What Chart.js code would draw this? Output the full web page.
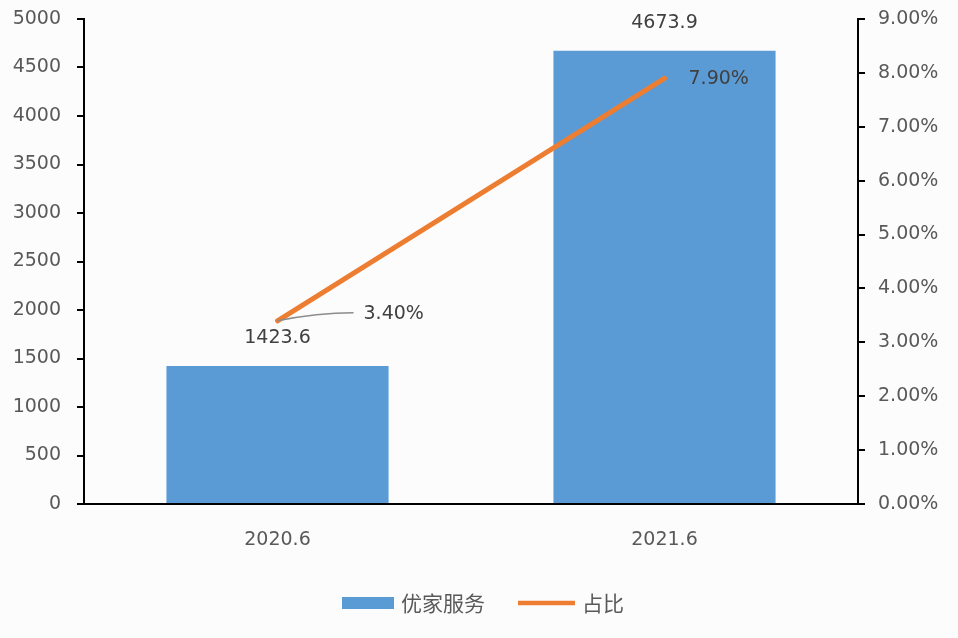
<!DOCTYPE html>
<html><head><meta charset="utf-8">
<script src="https://cdn.jsdelivr.net/npm/chart.js@4/dist/chart.umd.min.js"></script>
<style>html,body{margin:0;padding:0;background:#fdfcfd;}canvas{display:block;}</style>
</head><body>
<canvas id="c" width="958" height="638"></canvas>
<script>
const categories = ['2020.6', '2021.6'];
const serviceValues = [1423.6, 4673.9];
const shareValues = [3.40, 7.90];
const seriesNames = ['优家服务', '占比'];

const BLUE = '#5B9BD5', ORANGE = '#ED7D31', GREY = '#595959', DARK = '#404040';
const FONT = '"DejaVu Sans", sans-serif';
const CJK = '"Noto Sans CJK SC", sans-serif';

const labelPlugin = {
  id: 'labels',
  afterDatasetsDraw(chart) {
    const ctx = chart.ctx;
    const x = chart.scales.x, y = chart.scales.y, y2 = chart.scales.y2;
    ctx.save();
    ctx.font = '19px ' + FONT;
    ctx.fillStyle = DARK;
    ctx.textAlign = 'center';
    ctx.textBaseline = 'middle';
    serviceValues.forEach((v, i) => {
      ctx.fillText(v.toFixed(1), x.getPixelForValue(i), y.getPixelForValue(v) - 28);
    });
    ctx.textAlign = 'left';
    const p0x = x.getPixelForValue(0), p0y = y2.getPixelForValue(shareValues[0]);
    ctx.strokeStyle = '#8c8c8c';
    ctx.lineWidth = 1.5;
    ctx.beginPath();
    ctx.moveTo(p0x, p0y);
    ctx.quadraticCurveTo(p0x + 40, p0y - 8, p0x + 76, p0y - 8);
    ctx.stroke();
    ctx.fillText(shareValues[0].toFixed(2) + '%', p0x + 86, p0y - 7);
    const p1x = x.getPixelForValue(1), p1y = y2.getPixelForValue(shareValues[1]);
    ctx.fillText(shareValues[1].toFixed(2) + '%', p1x + 24, p1y + 1);
    ctx.restore();
  },
  afterDraw(chart) {
    const ctx = chart.ctx;
    ctx.save();
    ctx.fillStyle = BLUE;
    ctx.fillRect(342, 597, 52, 12);
    ctx.strokeStyle = ORANGE;
    ctx.lineWidth = 4.5;
    ctx.beginPath(); ctx.moveTo(518, 603); ctx.lineTo(575, 603); ctx.stroke();
    ctx.font = '21px ' + CJK;
    ctx.fillStyle = GREY;
    ctx.textAlign = 'left';
    ctx.textBaseline = 'middle';
    ctx.fillText(seriesNames[0], 401, 603);
    ctx.fillText(seriesNames[1], 582, 603);
    ctx.restore();
  }
};

function fixV(w) {
  return function (s) { s.width = w; s.paddingTop = 0; s.paddingBottom = 0; };
}

new Chart(document.getElementById('c'), {
  data: {
    labels: categories,
    datasets: [
      { type: 'line', label: seriesNames[1], data: shareValues, yAxisID: 'y2',
        borderColor: ORANGE, borderWidth: 5, pointRadius: 0, order: 0, borderCapStyle: 'round' },
      { type: 'bar', label: seriesNames[0], data: serviceValues, yAxisID: 'y',
        backgroundColor: BLUE, barPercentage: 0.574, categoryPercentage: 1, order: 1 }
    ]
  },
  options: {
    responsive: false, animation: false, devicePixelRatio: 1,
    layout: { padding: { top: 19, left: 0, right: 0, bottom: 55 } },
    plugins: { legend: { display: false }, tooltip: { enabled: false } },
    scales: {
      x: {
        grid: { display: false },
        border: { display: true, color: '#000', width: 2 },
        ticks: { color: GREY, font: { size: 19, family: FONT }, padding: 17 },
        afterFit(s) { s.height = 79; s.paddingLeft = 0; s.paddingRight = 0; }
      },
      y: {
        position: 'left', min: 0, max: 5000,
        grid: { drawOnChartArea: false, drawTicks: true, tickLength: 7, color: '#000', lineWidth: 2 },
        border: { display: true, color: '#000', width: 2 },
        ticks: { stepSize: 500, color: GREY, font: { size: 19, family: FONT }, padding: 16,
          callback: v => String(v) },
        afterFit: fixV(84)
      },
      y2: {
        position: 'right', min: 0, max: 9,
        grid: { drawOnChartArea: false, drawTicks: true, tickLength: 7, color: '#000', lineWidth: 2 },
        border: { display: true, color: '#000', width: 2 },
        ticks: { stepSize: 1, color: GREY, font: { size: 19, family: FONT }, padding: 13,
          callback: v => v.toFixed(2) + '%' },
        afterFit: fixV(100)
      }
    }
  },
  plugins: [labelPlugin]
});
</script>
</body></html>
